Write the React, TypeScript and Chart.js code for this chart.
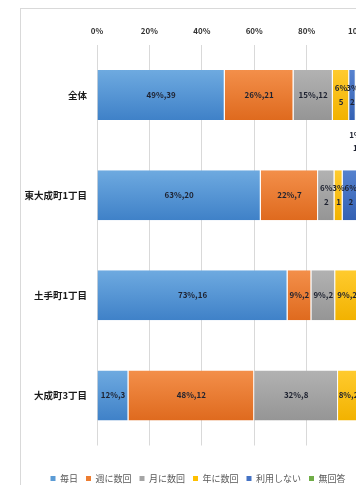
import React, { useEffect, useRef } from 'react';
import { Chart, registerables } from 'chart.js';

Chart.register(...registerables);

const categories = ['全体', '東大成町1丁目', '土手町1丁目', '大成町3丁目'];
const seriesNames = ['毎日', '週に数回', '月に数回', '年に数回', '利用しない', '無回答'];
const daily = [39, 20, 16, 3];
const weekly = [21, 7, 2, 12];
const monthly = [12, 2, 2, 8];
const yearly = [5, 1, 2, 2];
const notUsed = [2, 2, 0, 0];
const noAnswer = [1, 0, 0, 0];
const tickLabels = ['0%', '20%', '40%', '60%', '80%', '100%'];

const countSeries = [daily, weekly, monthly, yearly, notUsed, noAnswer];
const totals = categories.map((_, i) => countSeries.reduce((s, arr) => s + arr[i], 0));

const baseColors = ['#5b9bd5', '#ed7d31', '#a5a5a5', '#ffc000', '#4472c4', '#70ad47'];
const topColors = ['#6eaae0', '#f38f4a', '#b2b2b2', '#ffcb2e', '#5682cf', '#80ba58'];
const bottomColors = ['#3f81c8', '#df6a1e', '#959595', '#f2b200', '#3461b3', '#5f9a38'];

const FONT = '"Noto Sans CJK JP", "Noto Sans", sans-serif';

const makeBg = (i: number) => (c: any) => {
  const chart = c.chart;
  const area = chart.chartArea;
  const ys = chart.scales && chart.scales.y;
  if (!area || !ys || c.type !== 'data') return baseColors[i];
  const cy = ys.getPixelForValue(c.dataIndex);
  const half = ((area.bottom - area.top) / categories.length) * 0.25;
  const g = chart.ctx.createLinearGradient(0, cy - half, 0, cy + half);
  g.addColorStop(0, topColors[i]);
  g.addColorStop(1, bottomColors[i]);
  return g;
};

const labelPlugin = {
  id: 'segLabels',
  afterDatasetsDraw(chart: any) {
    const ctx = chart.ctx;
    ctx.save();
    ctx.font = `bold 8px ${FONT}`;
    ctx.fillStyle = '#1e2230';
    ctx.textAlign = 'center';
    ctx.textBaseline = 'middle';
    chart.data.datasets.forEach((ds: any, di: number) => {
      const meta = chart.getDatasetMeta(di);
      meta.data.forEach((el: any, i: number) => {
        const count = countSeries[di][i];
        if (!count) return;
        const { x, base, y, height } = el.getProps(['x', 'base', 'y', 'height'], true);
        const w = x - base;
        const cx = (x + base) / 2;
        const pct = Math.round(ds.data[i]) + '%';
        const full = pct + ',' + count;
        if (ctx.measureText(full).width <= w) {
          ctx.fillText(full, cx, y);
        } else if (w >= 4) {
          ctx.fillText(pct, cx, y - 7);
          ctx.fillText(String(count), cx, y + 7);
        } else {
          const by = y + height / 2;
          ctx.fillText(pct, cx - 2, by + 15);
          ctx.fillText(String(count), cx - 2, by + 28);
        }
      });
    });
    ctx.restore();
  },
};

export default function App() {
  const ref = useRef<HTMLCanvasElement | null>(null);

  useEffect(() => {
    if (!ref.current) return;
    const datasets = seriesNames.map((name, si) => ({
      label: name,
      data: countSeries[si].map((v, ci) => (v / totals[ci]) * 100),
      xAxisID: 'x',
      yAxisID: 'y',
      backgroundColor: makeBg(si),
      borderColor: '#ffffff',
      borderWidth: { left: 0, right: 1, top: 0, bottom: 0 },
      borderSkipped: false,
      barPercentage: 0.5,
      categoryPercentage: 1,
    }));
    const chart = new Chart(ref.current, {
      type: 'bar',
      data: { labels: categories, datasets },
      options: {
        indexAxis: 'y',
        animation: false,
        responsive: false,
        devicePixelRatio: 1,
        layout: { padding: { left: 20, right: 20, top: 8, bottom: 3 } },
        scales: {
          x: {
            type: 'linear',
            position: 'top',
            stacked: true,
            min: 0,
            max: 100,
            ticks: {
              stepSize: 20,
              padding: 9,
              color: '#333333',
              font: { family: FONT, size: 8, weight: 'bold' },
              callback: (_v: any, idx: number) => tickLabels[idx],
            },
            grid: { color: '#d9d9d9', drawTicks: false, lineWidth: 1 },
            border: { display: false },
            afterFit: (s: any) => {
              s.height = 37;
            },
          },
          y: {
            type: 'category',
            stacked: true,
            grid: { display: false, drawTicks: false },
            border: { display: false },
            ticks: {
              padding: 10,
              color: '#1a1a1a',
              font: { family: FONT, size: 9.5, weight: 'bold' },
            },
            afterFit: (s: any) => {
              s.width = 77;
            },
          },
          xb: {
            type: 'linear',
            position: 'bottom',
            display: true,
            grid: { display: false, drawTicks: false },
            ticks: { display: false },
            border: { display: false },
            afterFit: (s: any) => {
              s.height = 20.5;
            },
          },
          yr: {
            type: 'linear',
            position: 'right',
            display: true,
            grid: { display: false, drawTicks: false },
            ticks: { display: false },
            border: { display: false },
            afterFit: (s: any) => {
              s.width = 17;
            },
          },
        },
        plugins: {
          tooltip: { enabled: false },
          legend: {
            position: 'bottom',
            labels: {
              boxWidth: 5,
              boxHeight: 5,
              padding: 8,
              color: '#595959',
              font: { family: FONT, size: 9 },
              generateLabels: (ch: any) =>
                ch.data.datasets.map((d: any, i: number) => ({
                  text: d.label,
                  fillStyle: baseColors[i],
                  strokeStyle: baseColors[i],
                  lineWidth: 0,
                  hidden: false,
                  datasetIndex: i,
                  fontColor: '#595959',
                })),
            },
          },
        },
      } as any,
      plugins: [labelPlugin],
    });
    return () => chart.destroy();
  }, []);

  return (
    <div
      style={{
        position: 'fixed',
        left: 0,
        top: 0,
        width: 356,
        height: 485,
        overflow: 'hidden',
        background: '#ffffff',
      }}
    >
      <div
        style={{
          position: 'absolute',
          left: 20,
          top: 8,
          width: 420,
          height: 600,
          border: '1px solid #d9d9d9',
        }}
      />
      <canvas
        ref={ref}
        width={396}
        height={496}
        style={{ position: 'absolute', left: 0, top: 0, display: 'block' }}
      />
    </div>
  );
}
